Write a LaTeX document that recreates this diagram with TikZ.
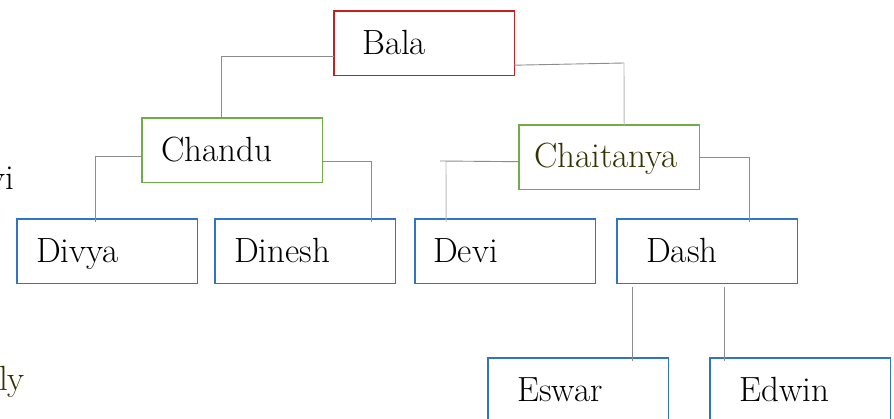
\documentclass[tikz,border=0pt]{standalone}
\usepackage{tikz}
\definecolor{redb}{RGB}{200,30,30}
\definecolor{greenb}{RGB}{112,173,71}
\definecolor{blueb}{RGB}{46,117,200}
\definecolor{conn}{RGB}{140,140,140}
\definecolor{connl}{RGB}{185,185,185}
\definecolor{olivet}{RGB}{51,51,0}
\begin{document}
\begin{tikzpicture}[x=1pt,y=-1pt,
  box/.style={minimum width=180pt, minimum height=64pt, inner sep=0pt, anchor=north west},
  outline/.style={line width=1.2pt},
  lbl/.style={inner sep=0pt, anchor=base west, font=\fontsize{35}{40}\selectfont},
  link/.style={draw=conn, line width=0.9pt},
  linkl/.style={draw=connl, line width=0.9pt}]
\useasboundingbox (0,0) rectangle (894,419);
\clip (0,0) rectangle (894,419);
% box nodes
\node[box] (bala)   at (334,11)  {};
\node[box] (chandu) at (142,118) {};
\node[box] (chait)  at (519,125) {};
\node[box] (divya)  at (17,219)  {};
\node[box] (dinesh) at (215,219) {};
\node[box] (devi)   at (415,219) {};
\node[box] (dash)   at (617,219) {};
\node[box] (eswar)  at (488,358) {};
\node[box] (edwin)  at (710,358) {};
% outlines
\draw[outline, redb] (bala.north west) rectangle (bala.south east);
\draw[outline, greenb] (chandu.north west) rectangle (chandu.south east);
\draw[outline, greenb] (chait.north west) rectangle (chait.south east);
\draw[outline, blueb] (divya.north west) rectangle (divya.south east);
\draw[outline, blueb] (dinesh.north west) rectangle (dinesh.south east);
\draw[outline, blueb] (devi.north west) rectangle (devi.south east);
\draw[outline, blueb] (dash.north west) rectangle (dash.south east);
\draw[outline, blueb] (eswar.north west) rectangle (eswar.south east);
\draw[outline, blueb] (edwin.north west) rectangle (edwin.south east);
% connectors
\coordinate (k2) at (624,63);
\coordinate (k5) at (440,161);
\draw[link] ([yshift=-13pt]bala.west) -| ([xshift=-10.5pt]chandu.north);
\draw[link] ([yshift=-22pt]bala.east) -- (k2);
\draw[linkl] (k2) -- ([xshift=15pt]chait.north);
\draw[link] ([yshift=-6pt]chandu.west) -| ([xshift=-12pt,yshift=-3pt]divya.north);
\draw[link] ([yshift=-11pt]chandu.east) -| ([xshift=66pt,yshift=-3pt]dinesh.north);
\draw[link] ([yshift=-4.5pt]chait.west) -- (k5);
\draw[linkl] ([xshift=6pt]k5) -- ([xshift=-59pt,yshift=-3pt]devi.north);
\draw[link] ([yshift=0pt]chait.east) -| ([xshift=42pt,yshift=-3pt]dash.north);
\draw[link] ([xshift=-75pt,yshift=-4pt]dash.south) -- ([xshift=54pt,yshift=-3pt]eswar.north);
\draw[link] ([xshift=17pt,yshift=-4pt]dash.south) -- ([xshift=-76pt,yshift=-3pt]edwin.north);
% labels
\node[lbl] (tbala) at (362,55) {Bala};
\node[lbl] (tchandu) at (161,162) {Chandu};
\node[lbl, text=olivet] (tchait) at (534,168) {Chaitanya};
\node[lbl] (tdivya) at (36,263) {Divya};
\node[lbl] (tdinesh) at (234,263) {Dinesh};
\node[lbl] (tdevi) at (433,263) {Devi};
\node[lbl] (tdash) at (646,263) {Dash};
\node[lbl] (teswar) at (517,402) {Eswar};
\node[lbl] (tedwin) at (739,402) {Edwin};
% cut-off fragments at left edge
\node[lbl, anchor=base east] (fragvi) at (14,190) {vi};
\node[lbl, anchor=base east, text=olivet] (fragly) at (25,390) {ly};
\end{tikzpicture}
\end{document}
